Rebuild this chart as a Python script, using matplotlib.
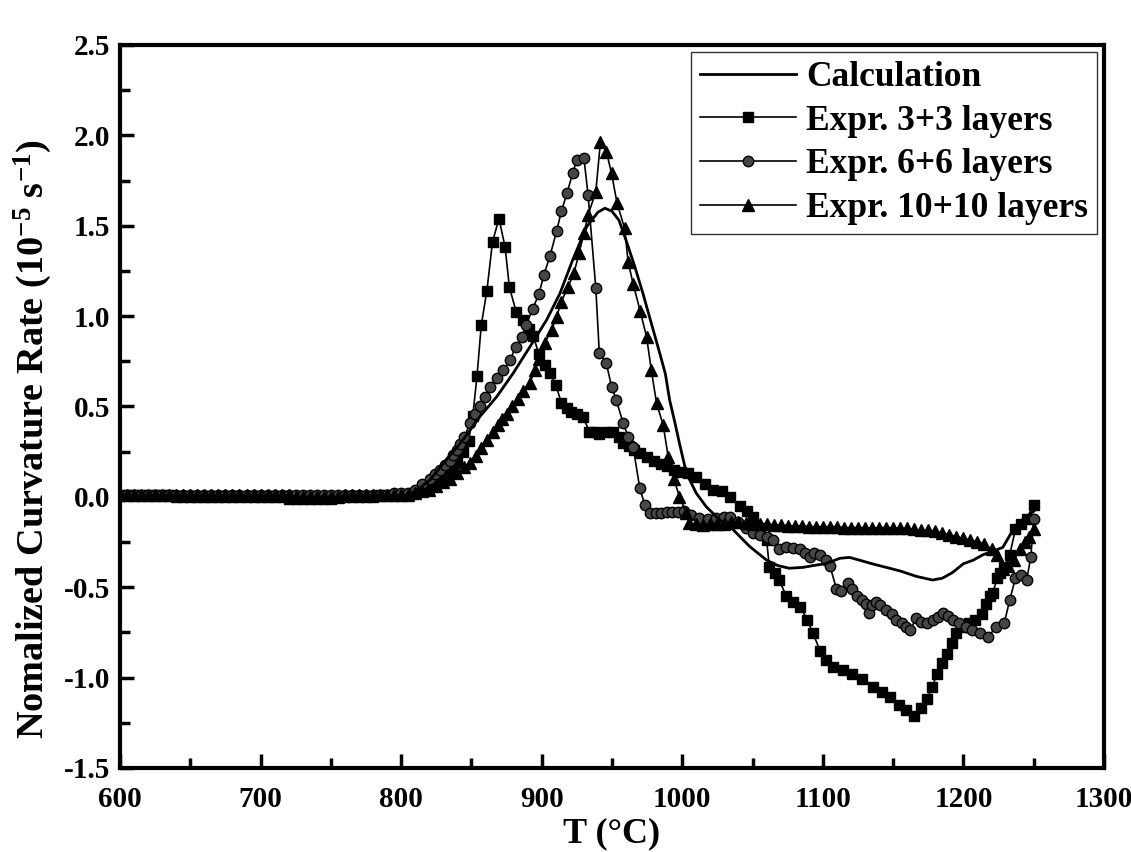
import matplotlib
matplotlib.use('Agg')
import matplotlib.pyplot as plt
from matplotlib.ticker import MultipleLocator

plt.rcParams['font.family'] = ['Liberation Serif', 'DejaVu Serif']
plt.rcParams['font.weight'] = 'bold'
plt.rcParams['axes.unicode_minus'] = False
plt.rcParams['mathtext.fontset'] = 'custom'
plt.rcParams['mathtext.rm'] = 'Liberation Serif:bold'
plt.rcParams['mathtext.it'] = 'Liberation Serif:bold'
plt.rcParams['mathtext.bf'] = 'Liberation Serif:bold'

# flat part (600-800 C) sampled every 5 C
flat_T = [600, 605, 610, 615, 620, 625, 630, 635, 640, 645, 650, 655, 660, 665,
          670, 675, 680, 685, 690, 695, 700, 705, 710, 715, 720, 725, 730, 735,
          740, 745, 750, 755, 760, 765, 770, 775, 780, 785, 790, 795, 800]

# calculation
calc_T = [600, 650, 700, 750, 800, 810, 820.5, 832, 844, 856, 868, 879.7, 891.6,
          903.5, 913, 922, 932, 940, 945, 950, 955, 960, 966, 972, 978, 984, 988,
          991, 994.5, 998, 1003, 1010, 1017, 1026.7, 1036, 1048, 1060, 1068, 1076,
          1086, 1095.5, 1102, 1107, 1112, 1119, 1126, 1135, 1143, 1155, 1166.6,
          1178, 1185, 1192, 1200, 1207, 1214, 1221, 1228, 1236.6, 1243, 1250]
calc_y = [0.0, 0.0, 0.0, 0.0, 0.0, 0.03, 0.093, 0.204, 0.315, 0.444, 0.554, 0.684,
          0.83, 0.979, 1.126, 1.31, 1.495, 1.575, 1.597, 1.58, 1.53, 1.42, 1.28,
          1.126, 0.96, 0.794, 0.68, 0.536, 0.42, 0.296, 0.13, 0.02, -0.054, -0.128,
          -0.18, -0.275, -0.35, -0.38, -0.395, -0.39, -0.377, -0.37, -0.355, -0.34,
          -0.335, -0.35, -0.37, -0.386, -0.41, -0.44, -0.46, -0.45, -0.42, -0.37,
          -0.35, -0.32, -0.30, -0.28, -0.165, -0.12, -0.08]

# Expr. 3+3 layers
sq_flat = [0.01, 0.01, 0.01, 0.01, 0.01, 0.01, 0.01, 0.01, 0.0, 0.0, 0.0, 0.0,
           0.0, 0.0, 0.0, 0.0, 0.0, 0.0, 0.0, 0.0, 0.0, 0.0, 0.0, 0.0, -0.01,
           -0.01, -0.01, -0.01, -0.01, -0.01, -0.01, 0.0, 0.0, 0.0, 0.0, 0.0, 0.0,
           0.01, 0.01, 0.01, 0.01]
sq_T = [805, 810, 815, 820, 825, 830, 835, 840, 844, 848, 851, 854, 857, 861, 865,
        869.6, 874, 877, 882, 887, 891, 894, 898, 902, 906, 910, 914, 918, 921, 925,
        929.5, 934, 938, 941, 946, 951, 955, 958, 962, 966, 970, 975, 980, 985, 989,
        994, 999, 1004, 1010, 1016, 1022, 1028, 1034, 1041, 1046, 1050, 1055, 1060,
        1062, 1066, 1069, 1074, 1079, 1084, 1089, 1093, 1098, 1102, 1107, 1114,
        1121, 1128, 1136, 1142, 1148, 1154, 1159.5, 1165, 1170, 1174, 1178, 1181,
        1185, 1188, 1192, 1195, 1200, 1204, 1208, 1213, 1216, 1219, 1221, 1224,
        1226, 1229, 1233, 1237, 1241, 1245, 1250]
sq_y = [0.01, 0.02, 0.03, 0.05, 0.07, 0.10, 0.14, 0.19, 0.25, 0.31, 0.45, 0.67,
        0.95, 1.14, 1.41, 1.54, 1.38, 1.16, 1.02, 0.98, 0.93, 0.89, 0.79, 0.73,
        0.685, 0.62, 0.52, 0.49, 0.47, 0.46, 0.44, 0.36, 0.36, 0.35, 0.36, 0.36,
        0.33, 0.30, 0.28, 0.26, 0.24, 0.22, 0.20, 0.18, 0.17, 0.15, 0.14, 0.13,
        0.11, 0.07, 0.04, 0.03, 0.0, -0.05, -0.08, -0.11, -0.17, -0.24, -0.39,
        -0.42, -0.46, -0.55, -0.58, -0.61, -0.68, -0.755, -0.85, -0.90, -0.94,
        -0.96, -0.98, -1.01, -1.05, -1.08, -1.105, -1.15, -1.18, -1.215, -1.17,
        -1.12, -1.05, -0.98, -0.92, -0.87, -0.81, -0.755, -0.72, -0.70, -0.68,
        -0.65, -0.59, -0.55, -0.53, -0.45, -0.42, -0.39, -0.32, -0.18, -0.15,
        -0.12, -0.045]

# Expr. 6+6 layers
ci_flat = [0.01, 0.01, 0.01, 0.01, 0.01, 0.01, 0.01, 0.01, 0.01, 0.01, 0.01,
           0.01, 0.01, 0.01, 0.01, 0.01, 0.01, 0.01, 0.01, 0.01, 0.01, 0.01,
           0.01, 0.01, 0.01, 0.01, 0.01, 0.01, 0.01, 0.01, 0.01, 0.01, 0.01,
           0.01, 0.01, 0.01, 0.01, 0.01, 0.01, 0.02, 0.02]
ci_T = [805, 810, 815, 820.5, 824, 827.6, 831, 834.7, 837, 839.5, 842, 845, 849,
        852.5, 856, 859.6, 863, 868, 872.6, 877.4, 881.6, 885.7, 889, 893.5, 898,
        901.6, 905.8, 910.6, 914, 918, 922, 925, 930, 933, 938.5, 941, 946, 949.7,
        953, 958, 961.5, 965, 969.8, 973.4, 977, 981, 985, 989, 993, 997, 1001,
        1006, 1012, 1018, 1024, 1030, 1034, 1040, 1045, 1050, 1055, 1060, 1064.6,
        1069, 1074, 1079, 1083.6, 1087, 1090.7, 1094, 1098, 1102, 1105, 1109.7,
        1113, 1118, 1121, 1124, 1128, 1131, 1133, 1135, 1138, 1141, 1145, 1149,
        1152, 1156, 1159, 1162, 1166.6, 1170, 1174, 1178.4, 1182, 1185.5, 1189,
        1192.6, 1197, 1202, 1206, 1211.7, 1217.6, 1223.5, 1229, 1233, 1237, 1241,
        1245, 1248, 1250]
ci_y = [0.02, 0.04, 0.07, 0.10, 0.125, 0.15, 0.175, 0.20, 0.23, 0.26, 0.29, 0.33,
        0.41, 0.46, 0.50, 0.55, 0.61, 0.656, 0.70, 0.757, 0.83, 0.886, 0.95, 1.04,
        1.12, 1.23, 1.33, 1.47, 1.58, 1.68, 1.79, 1.864, 1.877, 1.67, 1.154,
        0.794, 0.739, 0.61, 0.536, 0.407, 0.333, 0.278, 0.047, -0.045, -0.09,
        -0.09, -0.09, -0.085, -0.085, -0.085, -0.08, -0.10, -0.117, -0.12,
        -0.115, -0.11, -0.11, -0.14, -0.17, -0.20, -0.21, -0.22, -0.24, -0.29,
        -0.28, -0.285, -0.29, -0.31, -0.33, -0.31, -0.32, -0.35, -0.38, -0.51,
        -0.52, -0.478, -0.51, -0.55, -0.57, -0.59, -0.64, -0.60, -0.58, -0.60,
        -0.626, -0.65, -0.68, -0.70, -0.72, -0.737, -0.672, -0.69, -0.70, -0.68,
        -0.665, -0.644, -0.66, -0.68, -0.70, -0.718, -0.735, -0.755, -0.773,
        -0.718, -0.70, -0.57, -0.45, -0.43, -0.46, -0.33, -0.12]

# Expr. 10+10 layers
tr_flat = [0.01, 0.01, 0.01, 0.01, 0.01, 0.01, 0.01, 0.01, 0.01, 0.01, 0.01,
           0.01, 0.01, 0.01, 0.01, 0.01, 0.01, 0.01, 0.01, 0.01, 0.01, 0.01,
           0.01, 0.01, 0.01, 0.0, 0.0, 0.0, 0.0, 0.0, 0.0, 0.0, 0.01, 0.01,
           0.01, 0.01, 0.01, 0.01, 0.01, 0.01, 0.01]
tr_T = [805, 810, 815, 820, 825, 830, 835, 840, 845, 849, 853, 857, 861, 865, 869,
        872, 875, 879, 883, 887, 891.6, 895, 898, 902, 907, 910.6, 914, 918.8,
        922.9, 926.6, 930, 933, 938.5, 941.8, 946, 949.7, 953.6, 959, 961.5, 965,
        970, 974.6, 978, 981.7, 986.4, 990, 994, 998, 1003, 1005, 1010, 1015, 1020,
        1025, 1030, 1035, 1040, 1045, 1050, 1055, 1060, 1065, 1070, 1075, 1080,
        1085, 1090, 1095, 1100, 1105, 1110, 1115, 1120, 1125, 1130, 1135, 1140,
        1145, 1150, 1155, 1160, 1165, 1170, 1175, 1180, 1185, 1190, 1195, 1200,
        1205, 1210, 1215, 1220, 1224, 1228, 1232, 1236, 1240, 1244, 1247, 1250]
tr_y = [0.01, 0.02, 0.03, 0.04, 0.06, 0.08, 0.10, 0.13, 0.165, 0.19, 0.225, 0.27,
        0.315, 0.36, 0.40, 0.43, 0.46, 0.50, 0.54, 0.585, 0.63, 0.70, 0.76, 0.85,
        0.923, 0.997, 1.08, 1.163, 1.237, 1.348, 1.458, 1.56, 1.688, 1.965, 1.91,
        1.79, 1.624, 1.486, 1.30, 1.18, 1.03, 0.886, 0.70, 0.518, 0.398, 0.222,
        0.10, 0.0, -0.09, -0.146, -0.15, -0.155, -0.15, -0.15, -0.15, -0.14,
        -0.14, -0.145, -0.15, -0.15, -0.15, -0.155, -0.155, -0.16, -0.16, -0.16,
        -0.165, -0.165, -0.165, -0.165, -0.165, -0.17, -0.17, -0.17, -0.17,
        -0.175, -0.17, -0.17, -0.17, -0.175, -0.175, -0.18, -0.185, -0.185,
        -0.19, -0.20, -0.21, -0.22, -0.23, -0.24, -0.25, -0.26, -0.29, -0.32,
        -0.40, -0.38, -0.35, -0.29, -0.25, -0.22, -0.18]

fig = plt.figure(figsize=(11.31, 8.52), dpi=100)
ax = fig.add_axes([0.1061, 0.0986, 0.8700, 0.8486])

ax.plot(calc_T, calc_y, color='black', lw=2.0, label='Calculation', zorder=5)
ax.plot(flat_T + sq_T, sq_flat + sq_y, color='black', lw=1.2, marker='s',
        ms=7, mfc='black', mec='black', label='Expr. 3+3 layers')
ax.plot(flat_T + ci_T, ci_flat + ci_y, color='black', lw=1.2, marker='o',
        ms=7.5, mfc='#464646', mec='black', mew=1.0, label='Expr. 6+6 layers')
ax.plot(flat_T + tr_T, tr_flat + tr_y, color='black', lw=1.2, marker='^',
        ms=8, mfc='black', mec='black', label='Expr. 10+10 layers')

ax.set_xlim(600, 1300)
ax.set_ylim(-1.5, 2.5)
ax.xaxis.set_major_locator(MultipleLocator(100))
ax.xaxis.set_minor_locator(MultipleLocator(50))
ax.yaxis.set_major_locator(MultipleLocator(0.5))
ax.yaxis.set_minor_locator(MultipleLocator(0.25))
ax.yaxis.set_major_formatter(plt.FormatStrFormatter('%.1f'))
ax.tick_params(which='both', direction='in', top=False, right=False,
               width=2.5, labelsize=21)
ax.tick_params(axis='x', which='both', pad=13)
ax.tick_params(axis='y', which='both', pad=7)
ax.tick_params(which='major', length=10)
ax.tick_params(which='minor', length=7)
for s in ax.spines.values():
    s.set_linewidth(3)

ax.set_xlabel('T (°C)', fontsize=26, fontweight='bold', labelpad=3)
ax.set_ylabel(r'Nomalized Curvature Rate (10$^{-5}$ s$^{-1}$)', fontsize=27.5,
              fontweight='bold')
ax.yaxis.set_label_coords(-0.067, 0.455)

leg = ax.legend(loc='upper right', bbox_to_anchor=(0.993, 0.990), fontsize=25.5,
                frameon=True, fancybox=False, edgecolor='black',
                handlelength=2.7, handletextpad=0.3, borderpad=0.25,
                labelspacing=0.3, borderaxespad=0)
leg.get_frame().set_linewidth(1.0)

fig.savefig('out.png', dpi=100)
